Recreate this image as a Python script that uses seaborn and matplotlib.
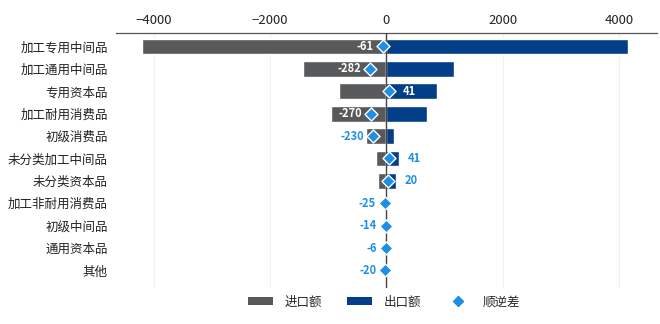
import numpy as np
import pandas as pd
import matplotlib
matplotlib.use("Agg")
import matplotlib.pyplot as plt
import seaborn as sns
from matplotlib.patches import Patch
from matplotlib.lines import Line2D

categories = ["加工专用中间品", "加工通用中间品", "专用资本品", "加工耐用消费品", "初级消费品",
              "未分类加工中间品", "未分类资本品", "加工非耐用消费品", "初级中间品", "通用资本品", "其他"]
imports = [4211, 1442, 824, 962, 360, 179, 145, 35, 22, 11, 25]
exports = [4150, 1160, 865, 692, 130, 220, 165, 10, 8, 5, 5]
balance = [-61, -282, 41, -270, -230, 41, 20, -25, -14, -6, -20]
xticks = [-4000, -2000, 0, 2000, 4000]

sns.set_theme(style="white")
plt.rcParams['font.family'] = ['Noto Sans CJK SC', 'DejaVu Sans']
plt.rcParams['axes.unicode_minus'] = True

GRAY = "#58595b"
BLUE = "#023f88"
DIAM = "#1e8fe6"

df = pd.DataFrame({"cat": categories, "imp": [-v for v in imports], "exp": exports, "bal": balance})

fig = plt.figure(figsize=(6.6, 3.24), dpi=100)
ax = fig.add_axes([0.176, 0.11, 0.819, 0.788])

for t in xticks:
    ax.axvline(t, color="#f2f2f2", lw=0.8, zorder=0)

sns.barplot(data=df, x="imp", y="cat", color=GRAY, orient="h", width=0.7, ax=ax,
            saturation=1, zorder=2)
sns.barplot(data=df, x="exp", y="cat", color=BLUE, orient="h", width=0.7, ax=ax,
            saturation=1, zorder=2)

ax.axvline(0, color="#444444", lw=1.0, zorder=3)

ypos = np.arange(len(categories))
ax.scatter(df["bal"], ypos, marker="D", s=44, color=DIAM, edgecolor="white",
           linewidth=1.0, zorder=5)

for i, (b, im, ex) in enumerate(zip(balance, imports, exports)):
    if b < 0:
        inside = im > abs(b) + 430
        ax.annotate(f"{b}", (b, i), xytext=(-6.5, 0), textcoords="offset points",
                    ha="right", va="center", fontsize=8, fontweight="bold",
                    color="white" if inside else DIAM, zorder=6)
    else:
        inside = ex > b + 400
        if inside:
            ax.annotate(f"{b}", (b, i), xytext=(10, 0), textcoords="offset points",
                        ha="left", va="center", fontsize=8, fontweight="bold",
                        color="white", zorder=6)
        else:
            ax.annotate(f"{b}", (max(ex, b), i), xytext=(6, 0), textcoords="offset points",
                        ha="left", va="center", fontsize=8, fontweight="bold",
                        color=DIAM, zorder=6)

ax.set_xlim(-4650, 4650)
ax.set_ylim(10.8, -0.6)
ax.set_xticks(xticks)
ax.xaxis.tick_top()
ax.tick_params(axis="x", length=0, labelsize=9.5, colors="#222222", pad=4)
ax.tick_params(axis="y", length=0, labelsize=9, colors="#222222", pad=6)
ax.set_xlabel("")
ax.set_ylabel("")
for s in ["left", "right", "bottom"]:
    ax.spines[s].set_visible(False)
ax.spines["top"].set_color("#555555")
ax.spines["top"].set_linewidth(0.9)

handles = [Patch(facecolor=GRAY, edgecolor="none"),
           Patch(facecolor=BLUE, edgecolor="none"),
           Line2D([], [], marker="D", linestyle="none", color=DIAM, markersize=5)]
fig.legend(handles, ["进口额", "出口额", "顺逆差"], loc="center", ncol=3,
           bbox_to_anchor=(0.582, 0.068), frameon=False, fontsize=9,
           handlelength=2.0, handleheight=0.6, columnspacing=2.0, handletextpad=0.9)

fig.savefig("out.png", dpi=100)
